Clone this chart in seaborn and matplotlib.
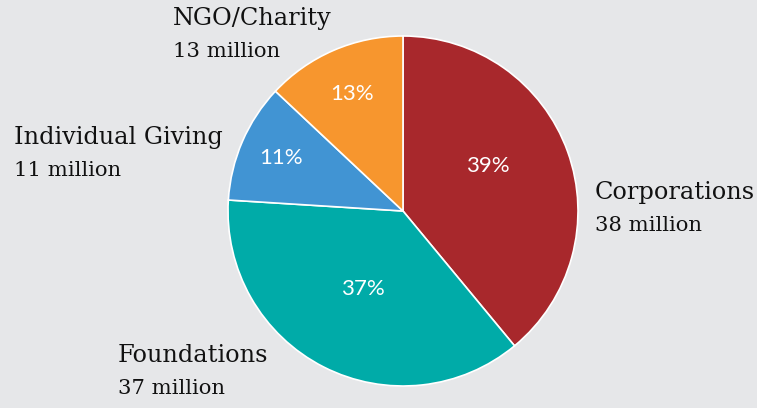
import numpy as np
import seaborn as sns
import matplotlib.pyplot as plt

# === Dados ===
categories = ["Corporations", "Foundations", "Individual Giving", "NGO/Charity"]
shares = [39, 37, 11, 13]            # %
amounts = [38, 37, 11, 13]           # million
colors = ["#A8282C", "#00ABA8", "#4194D3", "#F7962E"]

BG = "#E6E7E9"
W, H = 757, 408

sns.set_theme(style="white")
plt.rcParams["font.family"] = ["DejaVu Serif"]

fig = plt.figure(figsize=(W / 100, H / 100), dpi=100, facecolor=BG)
ax = fig.add_axes([0, 0, 1, 1])
ax.set_facecolor(BG)

cx, cy, R = 403, H - 211, 175
wedges, _ = ax.pie(shares, colors=colors, startangle=90, counterclock=False,
                   center=(cx, cy), radius=R, frame=True,
                   wedgeprops=dict(edgecolor="white", linewidth=1.2))
ax.set_xlim(0, W)
ax.set_ylim(0, H)
ax.set_aspect("equal")
ax.axis("off")

# percentuais dentro das fatias (distância relativa ao raio, por fatia)
pct_r = [0.55, 0.50, 0.76, 0.73]
pct_off = [-8, 0, 0, 0]  # pequeno ajuste angular (graus)
for w, p, r, da in zip(wedges, shares, pct_r, pct_off):
    ang = np.deg2rad((w.theta1 + w.theta2) / 2 - da)
    x = cx + r * R * np.cos(ang)
    y = cy + r * R * np.sin(ang)
    ax.text(x, y, f"{p}%", ha="center", va="center", color="white",
            fontsize=16, family=["Lato", "DejaVu Sans"])

# rótulos externos (topo-esquerda do bloco, em px a partir do topo)
label_pos = [(595, 181), (118, 344), (14, 126), (173, 7)]
for (lx, ly), name, amt in zip(label_pos, categories, amounts):
    ax.text(lx, H - ly, name, ha="left", va="top", fontsize=17.3, color="#111111")
    ax.text(lx, H - ly - 35, f"{amt} million", ha="left", va="top",
            fontsize=15.2, color="#111111")

fig.savefig("out.png", dpi=100, facecolor=BG)
